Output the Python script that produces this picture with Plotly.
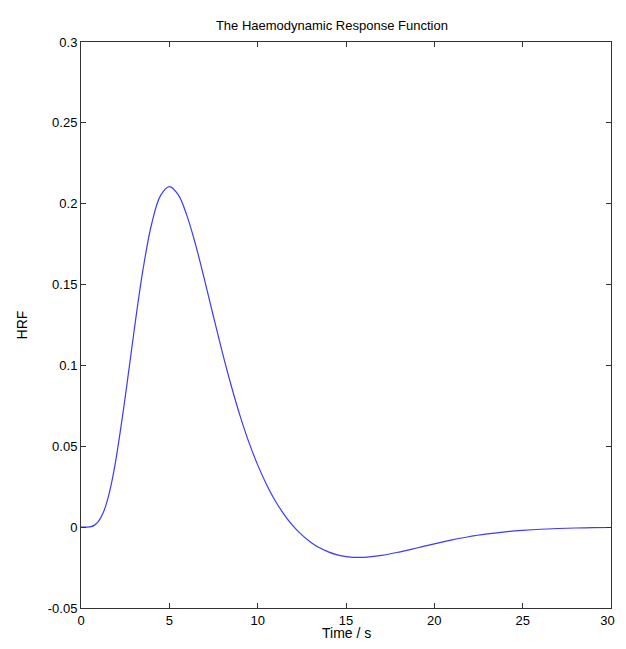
import plotly.graph_objects as go

# Values
time_s = [0, 0.5, 0.75, 1, 1.25, 1.5, 1.75, 2, 2.5, 3, 3.5, 4, 4.5, 5, 5.5, 6, 6.5, 7, 7.5, 8, 8.5, 9, 9.5,
          10, 10.5, 11, 11.5, 12, 12.5, 13, 13.5, 14, 14.5, 15, 16, 17, 18, 19, 20,
          21, 22, 23, 24, 25, 26, 27, 28, 29, 30]
hrf = [0.0, 0.0002, 0.0011, 0.0037, 0.0087, 0.0169, 0.0285, 0.0433, 0.0802, 0.121, 0.1586, 0.1876, 0.205,
       0.2106, 0.2056, 0.1925, 0.1741, 0.1526, 0.1301, 0.1081, 0.0876, 0.069, 0.0526,
       0.0385, 0.0264, 0.0162, 0.0078, 0.0008, -0.0048, -0.0093, -0.0128, -0.0153, -0.0171,
       -0.0182, -0.0187, -0.0175, -0.0154, -0.0129, -0.0103,
       -0.0079, -0.0058, -0.0042, -0.0029, -0.002, -0.0013, -0.00085, -0.00054, -0.00034, -0.00021]

x_ticks = [0, 5, 10, 15, 20, 25, 30]
x_tick_labels = ["0", "5", "10", "15", "20", "25", "30\u00a0\u00a0"]
y_ticks = [-0.05, 0, 0.05, 0.1, 0.15, 0.2, 0.25, 0.3]
y_tick_labels = ["-0.05", "0", "0.05", "0.1", "0.15", "0.2", "0.25", "0.3"]

font_family = "Liberation Sans, Arial, sans-serif"

fig = go.Figure()
fig.add_trace(go.Scatter(
    x=time_s, y=hrf, mode="lines",
    line=dict(color="#3a3aff", width=1.2, shape="spline", smoothing=1.0),
    showlegend=False, hoverinfo="x+y",
))

axis_common = dict(
    showgrid=False, zeroline=False, automargin=False,
    showline=True, linecolor="#333333", linewidth=1, mirror="ticks",
    ticks="inside", ticklen=5, tickcolor="#333333",
    ticklabeloverflow="allow",
    tickfont=dict(family=font_family, size=13, color="#000000"),
)

# the page body has an 8px margin; the figure is sized so the page does not overflow
fig.update_layout(
    width=610, height=633,
    margin=dict(l=73, r=7, t=34, b=33),
    paper_bgcolor="white", plot_bgcolor="white",
    title=dict(text="The Haemodynamic Response Function", x=0.531, xanchor="center",
               y=0.973, yanchor="middle",
               font=dict(family=font_family, size=13, color="#000000")),
    xaxis=dict(range=[0, 30.0001], tickvals=x_ticks, ticktext=x_tick_labels,
               **axis_common),
    yaxis=dict(range=[-0.05, 0.3], tickvals=y_ticks, ticktext=y_tick_labels,
               title=dict(text="HRF", standoff=16,
                          font=dict(family=font_family, size=14, color="#000000")),
               **axis_common),
    annotations=[dict(text="Time / s", xref="paper", yref="paper", x=0.5, y=-0.045,
                      xanchor="center", yanchor="middle", showarrow=False, borderpad=0,
                      font=dict(family=font_family, size=14, color="#000000"))],
)

fig.write_html("out.html")
